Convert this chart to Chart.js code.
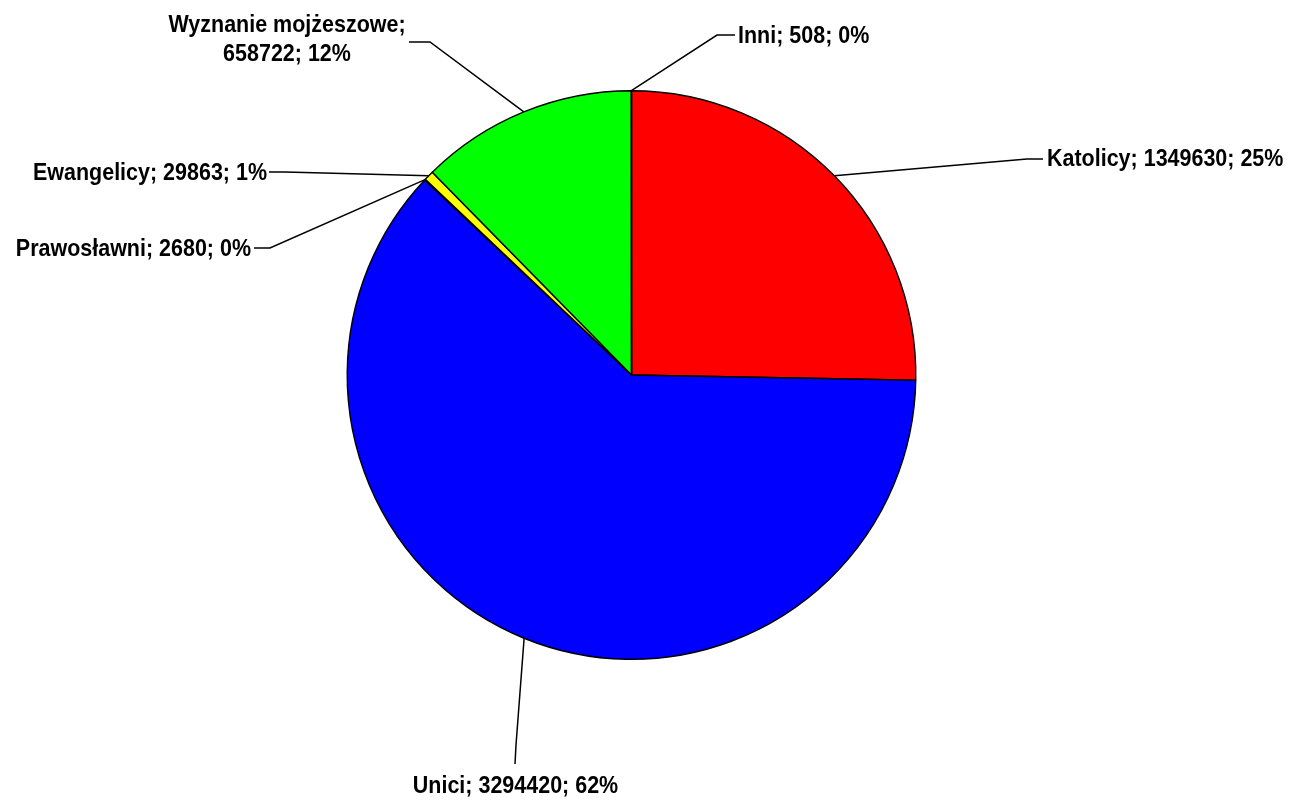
<!DOCTYPE html>
<html>
<head>
<meta charset="utf-8">
<script src="https://cdn.jsdelivr.net/npm/chart.js@4/dist/chart.umd.min.js"></script>
<style>
html,body{margin:0;padding:0;background:#fff;}
canvas{display:block;}
</style>
</head>
<body>
<canvas id="c" width="1289" height="801"></canvas>
<script>
// ---- data ----
const categories = ["Katolicy", "Unici", "Prawosławni", "Ewangelicy", "Wyznanie mojżeszowe", "Inni"];
const values = [1349630, 3294420, 2680, 29863, 658722, 508];
const colors = ["#FF0000", "#0000FF", "#996666", "#FFFF00", "#00FF00", "#00FFFF"];

// ---- label layout (offsets from pie centre, px) ----
const labelLayout = [
  {elbow:[395.5,-216], end:[411.5,-216], text:[415.5,-216], align:"left", lines:1},
  {elbow:[-115.5,370], end:[-116.5,389], text:[-116,411], align:"center", lines:1},
  {elbow:[-361.5,-127], end:[-377.5,-127], text:[-380.5,-126], align:"right", lines:1},
  {elbow:[-346.5,-203], end:[-362.5,-203], text:[-364.5,-202], align:"right", lines:1},
  {elbow:[-201.5,-333], end:[-222.5,-333], text:[-344.5,-335], align:"center", lines:2},
  {elbow:[85.5,-340], end:[103.5,-340], text:[106.5,-339], align:"left", lines:1}
];

const total = values.reduce((a,b)=>a+b,0);
const SX = 0.895;

const leaderPlugin = {
  id: "leaders",
  afterDatasetsDraw(chart) {
    const ctx = chart.ctx;
    const meta = chart.getDatasetMeta(0);
    ctx.save();
    ctx.strokeStyle = "#000";
    ctx.lineWidth = 1.5;
    ctx.fillStyle = "#000";
    ctx.textBaseline = "middle";
    meta.data.forEach((arc, i) => {
      const p = arc.getProps(["x","y","startAngle","endAngle","outerRadius"], true);
      const mid = (p.startAngle + p.endAngle) / 2;
      const sx = p.x + Math.cos(mid) * p.outerRadius;
      const sy = p.y + Math.sin(mid) * p.outerRadius;
      const L = labelLayout[i];
      ctx.beginPath();
      ctx.moveTo(sx, sy);
      ctx.lineTo(p.x + L.elbow[0], p.y + L.elbow[1]);
      ctx.lineTo(p.x + L.end[0], p.y + L.end[1]);
      ctx.stroke();
      const pct = Math.round(values[i] / total * 100) + "%";
      const tx = p.x + L.text[0], ty = p.y + L.text[1];
      ctx.save();
      ctx.translate(tx, ty);
      ctx.scale(SX, 1);
      ctx.font = "bold 24px 'Liberation Sans', Arial, sans-serif";
      ctx.textAlign = L.align;
      if (L.lines === 2) {
        ctx.fillText(categories[i] + ";", 0, -14.5);
        ctx.fillText(values[i] + "; " + pct, 0, 14.5);
      } else {
        ctx.fillText(categories[i] + "; " + values[i] + "; " + pct, 0, 0);
      }
      ctx.restore();
    });
    ctx.restore();
  }
};

new Chart(document.getElementById("c"), {
  type: "pie",
  data: {
    labels: categories,
    datasets: [{
      data: values,
      backgroundColor: colors,
      borderColor: "#000000",
      borderWidth: 1.4
    }]
  },
  options: {
    responsive: false,
    animation: false,
    layout: { padding: { top: 90, bottom: 141, left: 331, right: 357 } },
    plugins: { legend: { display: false }, tooltip: { enabled: false } }
  },
  plugins: [leaderPlugin]
});
</script>
</body>
</html>
